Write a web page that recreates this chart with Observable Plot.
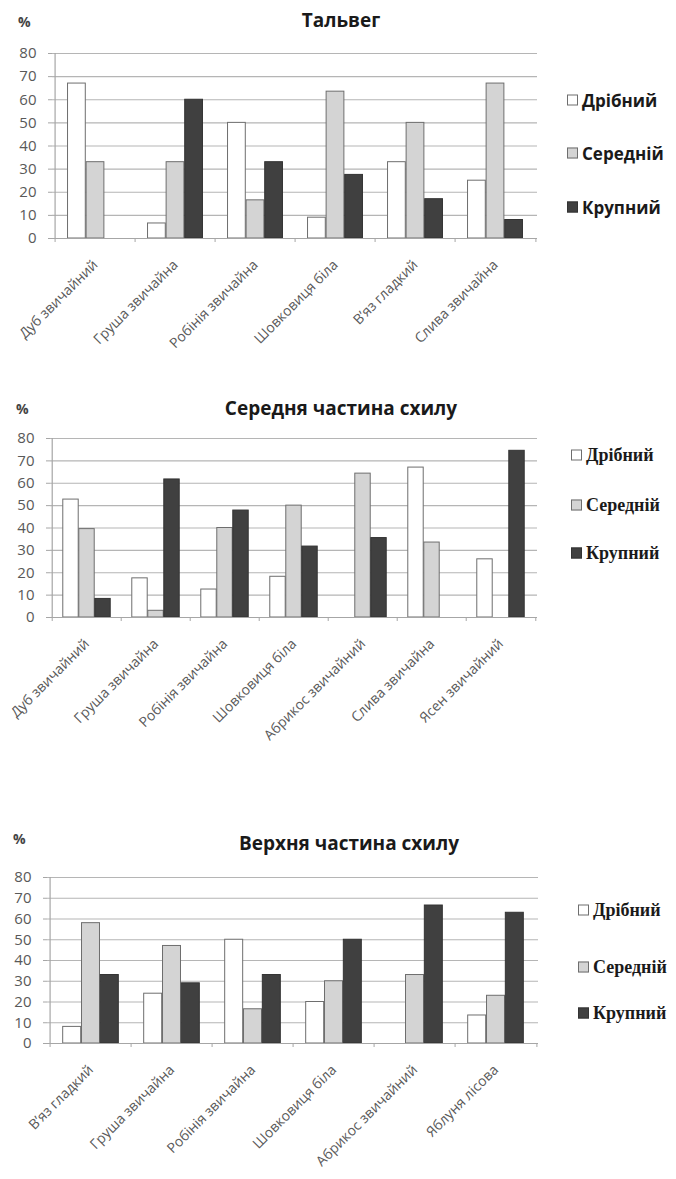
<!DOCTYPE html>
<html><head><meta charset="utf-8">
<script src="https://cdn.jsdelivr.net/npm/d3@7"></script>
<script src="https://cdn.jsdelivr.net/npm/@observablehq/plot@0.6"></script>
<style>
body{margin:0;background:#fff;}
#root{position:relative;width:676px;height:1179px;overflow:hidden;font-family:"Open Sans",sans-serif;}
.abs{position:absolute;white-space:nowrap;}
.title{font-weight:bold;font-size:19px;color:#1a1a1a;transform:translate(-50%,-50%);}
.pct{font-weight:bold;font-size:14px;color:#444;transform:translateY(-50%);}
.leg{display:flex;align-items:center;transform:translateY(-50%);font-weight:bold;color:#1a1a1a;}
.sw{width:9px;height:9px;border:1px solid #777;margin-right:4px;}
</style></head>
<body><div id="root"></div>
<script>
const series = ["Дрібний", "Середній", "Крупний"];
const yTicks = [0, 10, 20, 30, 40, 50, 60, 70, 80];

const titles = ["Тальвег", "Середня частина схилу", "Верхня частина схилу"];

const cats1 = ["Дуб звичайний", "Груша звичайна", "Робінія звичайна", "Шовковиця біла", "В’яз гладкий", "Слива звичайна"];
const dribnyi1 = [67, 6.5, 50, 9, 33, 25];
const seredniy1 = [33, 33, 16.5, 63.5, 50, 67];
const krupnyi1 = [0, 60, 33, 27.5, 17, 8];

const cats2 = ["Дуб звичайний", "Груша звичайна", "Робінія звичайна", "Шовковиця біла", "Абрикос звичайний", "Слива звичайна", "Ясен звичайний"];
const dribnyi2 = [52.7, 17.5, 12.5, 18.2, 0, 67, 26];
const seredniy2 = [39.5, 3, 40, 50, 64.3, 33.5, 0];
const krupnyi2 = [8.3, 61.7, 47.8, 31.7, 35.5, 0, 74.5];

const cats3 = ["В’яз гладкий", "Груша звичайна", "Робінія звичайна", "Шовковиця біла", "Абрикос звичайний", "Яблуня лісова"];
const dribnyi3 = [8, 24, 50, 20, 0, 13.5];
const seredniy3 = [58, 47, 16.5, 30, 33, 23];
const krupnyi3 = [33, 29, 33, 50, 66.5, 63];

const fills = ["#ffffff", "#d4d4d4", "#404040"];
const strokes = ["#6e6e6e", "#6e6e6e", "#333333"];

const root = document.getElementById("root");

function addDiv(cls, x, y, html, extra) {
  const d = document.createElement("div");
  d.className = "abs " + cls;
  d.style.left = x + "px";
  d.style.top = y + "px";
  d.innerHTML = html;
  if (extra) Object.assign(d.style, extra);
  root.appendChild(d);
  return d;
}

function chart(cfg) {
  const {cats, vals, svgTop, svgBottom, y80, y0, left, right} = cfg;
  const n = cats.length;
  const bw = (right - left) / n;
  const barW = bw * 0.23;
  const ins = (bw - barW) / 2;
  const pxPerUnit = (y0 - y80) / 80;
  const tickLen = 4 / pxPerUnit;
  const marks = [
    Plot.gridY(yTicks, {stroke: "#b5b5b5", strokeOpacity: 1, strokeWidth: 1.2}),
    Plot.ruleX([cats[0]], {dx: -bw / 2, y1: 0, y2: 80, stroke: "#a6a6a6", strokeWidth: 1.2}),
    Plot.ruleX(cats, {dx: -bw / 2, y1: 0, y2: -tickLen, stroke: "#a6a6a6"}),
    Plot.ruleX([cats[n - 1]], {dx: bw / 2, y1: 0, y2: -tickLen, stroke: "#a6a6a6"})
  ];
  vals.forEach((arr, i) => {
    const rows = cats.map((c, j) => ({c, v: arr[j], s: series[i]})).filter(r => r.v > 0);
    marks.push(Plot.barY(rows, {
      x: "c", y: "v", fill: fills[i], stroke: strokes[i], strokeWidth: 1,
      insetLeft: ins, insetRight: ins, dx: (i - 1) * barW
    }));
  });
  marks.push(Plot.ruleY([0], {stroke: "#a6a6a6", strokeWidth: 1.2}));
  marks.push(Plot.axisY(yTicks, {tickSize: 4, tickPadding: 12, fontSize: 15, fill: "#595959", stroke: "#a6a6a6", label: null}));
  marks.push(Plot.axisX({tickRotate: -45, tickSize: 0, tickPadding: 24, fontSize: 14, fill: "#595959", label: null}));
  const height = svgBottom - svgTop;
  const svg = Plot.plot({
    width: 676, height,
    marginLeft: left, marginRight: 676 - right,
    marginTop: y80 - svgTop, marginBottom: svgBottom - y0,
    x: {domain: cats, padding: 0},
    y: {domain: [0, 80]},
    style: {fontFamily: "Open Sans", background: "transparent", overflow: "visible"},
    marks
  });
  const wrap = document.createElement("div");
  wrap.className = "abs";
  wrap.style.left = "0px";
  wrap.style.top = svgTop + "px";
  wrap.appendChild(svg);
  root.appendChild(wrap);
}

function legend(x, ys, font, size) {
  series.forEach((s, i) => {
    const d = addDiv("leg", x, ys[i], `<span class="sw" style="background:${fills[i]};border-color:${strokes[i]}"></span><span>${s}</span>`);
    d.style.fontFamily = font;
    d.style.fontSize = size + "px";
  });
}

chart({cats: cats1, vals: [dribnyi1, seredniy1, krupnyi1], svgTop: 40, svgBottom: 375, y80: 53, y0: 238, left: 52, right: 537});
chart({cats: cats2, vals: [dribnyi2, seredniy2, krupnyi2], svgTop: 425, svgBottom: 805, y80: 438, y0: 617, left: 50, right: 537});
chart({cats: cats3, vals: [dribnyi3, seredniy3, krupnyi3], svgTop: 865, svgBottom: 1179, y80: 877, y0: 1043, left: 47, right: 538});

addDiv("title", 341, 20, titles[0]);
addDiv("title", 341, 408, titles[1]);
addDiv("title", 349, 843, titles[2]);
addDiv("pct", 18, 21, "%");
addDiv("pct", 16, 408, "%");
addDiv("pct", 13, 838, "%");

legend(567, [100, 153, 207], "Open Sans", 17);
legend(571, [455, 505, 553], "Liberation Serif", 18);
legend(578, [910, 967, 1013], "Liberation Serif", 18);
</script>
</body></html>
